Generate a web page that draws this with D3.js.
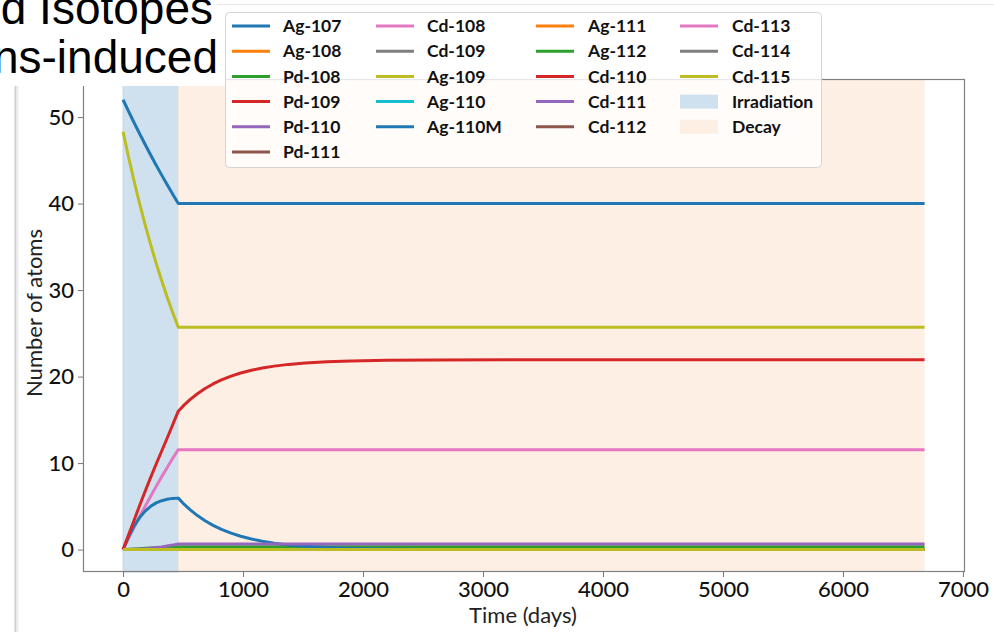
<!DOCTYPE html>
<html>
<head>
<meta charset="utf-8">
<script src="https://cdn.jsdelivr.net/npm/d3@7"></script>
<style>
  html, body { margin: 0; padding: 0; background: #fff; }
  .display { width: 994px; height: 632px; }
  svg { display: block; font-family: Lato, "Open Sans", sans-serif; }
</style>
</head>
<body>
<div class="display"></div>
<script>
// time grids (days)
const irradiationEnd = 460;
const decayEnd = 6680;
const shortDays = [0, 46, 92, 138, 184, 230, 276, 322, 368, 414, 460, 6680];
const longDays = [0, 46, 92, 138, 184, 230, 276, 322, 368, 414, 460,
  510, 560, 620, 680, 750, 820, 900, 980, 1070, 1160, 1260, 1380, 1520,
  1700, 1900, 2200, 2600, 3200, 4000, 5000, 6000, 6680];
const flatDays = [0, 460, 6680];

// number of atoms
const ag107 = [52.0, 50.65, 49.34, 48.07, 46.83, 45.61, 44.43, 43.29, 42.17, 41.08, 40.0, 40.0];
const pd108 = [0, 0.04, 0.075, 0.11, 0.145, 0.18, 0.21, 0.245, 0.275, 0.31, 0.34, 0.34];
const cd108 = [0, 1.30, 2.57, 3.80, 5.0, 6.17, 7.31, 8.42, 9.5, 10.55, 11.55, 11.55];
const ag109 = [48.3, 45.35, 42.58, 39.98, 37.54, 35.25, 33.09, 31.07, 29.17, 27.39, 25.7, 25.7];
const cd111 = [0, 0.01, 0.03, 0.06, 0.1, 0.16, 0.23, 0.31, 0.41, 0.52, 0.65, 0.65];
const ag110m = [0, 1.5, 2.75, 3.7, 4.45, 5.0, 5.4, 5.65, 5.82, 5.92, 5.95,
  5.22, 4.59, 3.93, 3.36, 2.80, 2.33, 1.90, 1.54, 1.22, 0.96, 0.74, 0.54, 0.38,
  0.24, 0.14, 0.065, 0.023, 0.005, 0.001, 0, 0, 0];
const cd110 = [0, 1.7, 3.4, 5.1, 6.75, 8.35, 9.9, 11.4, 12.9, 14.45, 16.0,
  16.73, 17.36, 18.02, 18.59, 19.15, 19.62, 20.05, 20.41, 20.73, 20.99, 21.21,
  21.41, 21.57, 21.71, 21.81, 21.885, 21.927, 21.945, 21.95, 21.95, 21.95, 21.95];
const zero = [0, 0, 0];

const isotopes = ["Ag-107", "Ag-108", "Pd-108", "Pd-109", "Pd-110", "Pd-111",
  "Cd-108", "Cd-109", "Ag-109", "Ag-110", "Ag-110M", "Ag-111", "Ag-112",
  "Cd-110", "Cd-111", "Cd-112", "Cd-113", "Cd-114", "Cd-115"];
const isotopeDays = [shortDays, flatDays, shortDays, flatDays, flatDays, flatDays,
  shortDays, flatDays, shortDays, flatDays, longDays, flatDays, flatDays,
  longDays, shortDays, flatDays, flatDays, flatDays, flatDays];
const isotopeValues = [ag107, zero, pd108, zero, zero, zero,
  cd108, zero, ag109, zero, ag110m, zero, zero,
  cd110, cd111, zero, zero, zero, zero];

const xTicks = [0, 1000, 2000, 3000, 4000, 5000, 6000, 7000];
const yTicks = [0, 10, 20, 30, 40, 50];
const titleLines = ["d Isotopes", "ns-induced"];

class DepletionChart {
  constructor() {
    this.graph = d3.select(".display");
    this.series = isotopes.map((name, i) => ({
      name,
      color: d3.schemeCategory10[i % 10],
      points: isotopeDays[i].map((t, j) => [t, isotopeValues[i][j]])
    }));
    this.render();
  }

  render() {
    this.sizes = {
      width: 994,
      height: 632,
      margin: { top: 79, right: 29, bottom: 60, left: 83 }
    };
    this.drawCanvas().createScale().addSpans().addLines().addAxis().addLegend().addSlide();
  }

  drawCanvas() {
    const { width, height } = this.sizes;
    this.svg = this.graph.append("svg").attr("width", width).attr("height", height);
    return this;
  }

  createScale() {
    const { width, height, margin } = this.sizes;
    this.xScale = d3.scaleLinear().domain([-334, 7017]).range([margin.left, width - margin.right]);
    this.yScale = d3.scaleLinear().domain([-2.59, 54.4]).range([height - margin.bottom, margin.top]);
    return this;
  }

  addSpans() {
    const x = this.xScale, y = this.yScale;
    const top = y.range()[1], bottom = y.range()[0];
    this.svg.append("rect")
      .attr("x", x(0)).attr("y", top)
      .attr("width", x(irradiationEnd) - x(0)).attr("height", bottom - top)
      .attr("fill", "#cfe1ee").attr("stroke", "#c3d6e6").attr("stroke-width", 1);
    this.svg.append("rect")
      .attr("x", x(irradiationEnd)).attr("y", top)
      .attr("width", x(decayEnd) - x(irradiationEnd)).attr("height", bottom - top)
      .attr("fill", "#fdefe4");
    return this;
  }

  addLines() {
    const line = d3.line().x(d => this.xScale(d[0])).y(d => this.yScale(d[1]));
    this.svg.append("g").selectAll("path")
      .data(this.series)
      .join("path")
      .attr("d", d => line(d.points))
      .attr("fill", "none")
      .attr("stroke", d => d.color)
      .attr("stroke-width", 3)
      .attr("stroke-linejoin", "round");
    return this;
  }

  addAxis() {
    const { width, height, margin } = this.sizes;
    const bottom = height - margin.bottom;

    const xAxis = d3.axisBottom(this.xScale).tickValues(xTicks)
      .tickSize(5).tickSizeOuter(0).tickPadding(4).tickFormat(d3.format("d"));
    const yAxis = d3.axisLeft(this.yScale).tickValues(yTicks)
      .tickSize(5).tickSizeOuter(0).tickPadding(4).tickFormat(d3.format("d"));

    const gx = this.svg.append("g").attr("transform", `translate(0,${bottom})`).call(xAxis);
    const gy = this.svg.append("g").attr("transform", `translate(${margin.left},0)`).call(yAxis);
    [gx, gy].forEach(g => {
      g.select(".domain").remove();
      g.selectAll("line").attr("stroke", "#777");
      g.selectAll("text").attr("fill", "#111")
        .style("font-size", "22px").style("font-weight", "500").style("font-family", "Lato");
    });

    // frame
    this.svg.append("rect")
      .attr("x", margin.left + 0.5).attr("y", margin.top + 0.5)
      .attr("width", width - margin.left - margin.right - 1)
      .attr("height", height - margin.top - margin.bottom - 1)
      .attr("fill", "none").attr("stroke", "#808080").attr("stroke-width", 1.2);

    this.svg.append("text")
      .attr("x", 523).attr("y", 623)
      .attr("text-anchor", "middle")
      .style("font-size", "22px").attr("fill", "#222")
      .text("Time (days)");

    this.svg.append("text")
      .attr("transform", "translate(42,313) rotate(-90)")
      .attr("text-anchor", "middle")
      .style("font-size", "22px").attr("fill", "#222")
      .text("Number of atoms");
    return this;
  }

  addLegend() {
    const legend = this.svg.append("g").attr("id", "legend");
    legend.append("rect")
      .attr("x", 225.5).attr("y", 12.5).attr("width", 596).attr("height", 155)
      .attr("rx", 4)
      .attr("fill", "#fff").attr("fill-opacity", 0.8)
      .attr("stroke", "#d4d4d4");

    const lineX = [232, 376, 536, 680];
    const textX = [283, 427, 588, 732];
    const perCol = [6, 5, 5, 5];
    const entries = this.series.map(s => ({ name: s.name, color: s.color, kind: "line" }))
      .concat([
        { name: "Irradiation", color: "#cfe1ee", kind: "patch" },
        { name: "Decay", color: "#fdefe4", kind: "patch" }
      ]);

    let k = 0;
    perCol.forEach((n, c) => {
      for (let r = 0; r < n; r++, k++) {
        const e = entries[k];
        const cy = 26 + r * 25.2;
        if (e.kind === "line") {
          legend.append("line")
            .attr("x1", lineX[c]).attr("x2", lineX[c] + 38)
            .attr("y1", cy).attr("y2", cy)
            .attr("stroke", e.color).attr("stroke-width", 3);
        } else {
          legend.append("rect")
            .attr("x", lineX[c]).attr("y", cy - 7)
            .attr("width", 38).attr("height", 14)
            .attr("fill", e.color);
        }
        legend.append("text")
          .attr("x", textX[c]).attr("y", cy)
          .attr("dy", "0.35em")
          .style("font-size", "17.5px").style("font-weight", "bold")
          .attr("fill", "#111")
          .text(e.name);
      }
    });
    return this;
  }

  addSlide() {
    // slide title box sitting over the top-left corner
    this.svg.append("rect")
      .attr("x", 0).attr("y", 0).attr("width", 225).attr("height", 86)
      .attr("fill", "#fff");
    this.svg.append("g").selectAll("text")
      .data(titleLines)
      .join("text")
      .attr("x", (d, i) => (i === 0 ? 213 : 218))
      .attr("y", (d, i) => 24 + i * 49)
      .attr("text-anchor", "end")
      .style("font-family", "'Liberation Sans', Arial, sans-serif")
      .style("font-size", "46px")
      .attr("fill", "#000")
      .text(d => d);
    // slide edges
    this.svg.append("line")
      .attr("x1", 15.5).attr("x2", 15.5).attr("y1", 86).attr("y2", 632)
      .attr("stroke", "#cfcfcf").attr("stroke-width", 2);
    this.svg.append("line")
      .attr("x1", 17.5).attr("x2", 17.5).attr("y1", 86).attr("y2", 632)
      .attr("stroke", "#ececec").attr("stroke-width", 2);
    this.svg.append("line")
      .attr("x1", 217).attr("x2", 994).attr("y1", 4.5).attr("y2", 4.5)
      .attr("stroke", "#e8e8e8");
    return this;
  }
}

new DepletionChart();
</script>
</body>
</html>
